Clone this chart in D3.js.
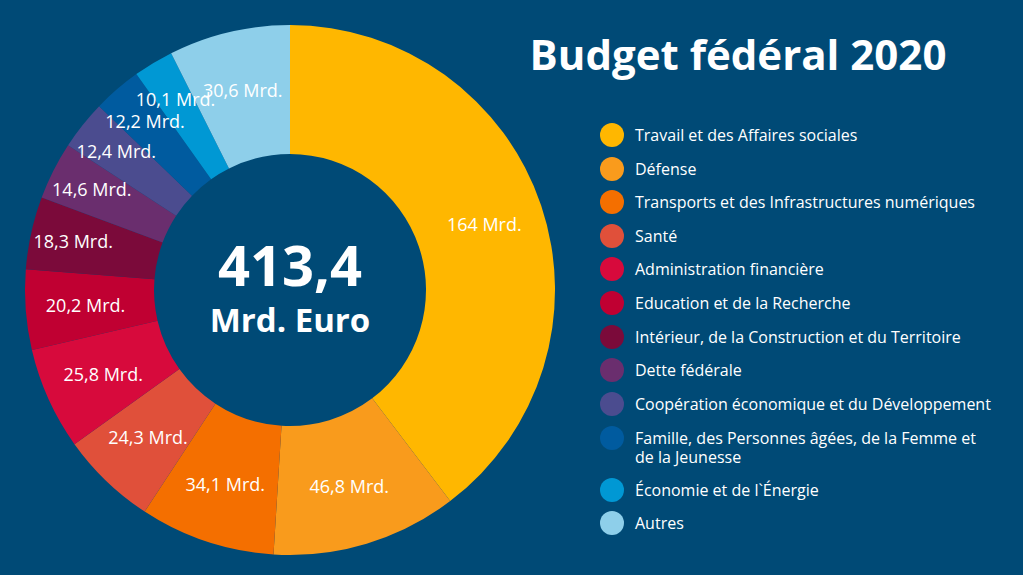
<!DOCTYPE html>
<html><head><meta charset="utf-8">
<script src="https://cdn.jsdelivr.net/npm/d3@7"></script>
<style>body{margin:0;background:#004a76}svg{display:block;font-family:"Open Sans",sans-serif}</style>
</head><body><svg id="c" width="1023" height="575"></svg>
<script>
// budget categories, clockwise from 12 o'clock
const categories = ["Travail et des Affaires sociales","Défense","Transports et des Infrastructures numériques","Santé","Administration financière","Education et de la Recherche","Intérieur, de la Construction et du Territoire","Dette fédérale","Coopération économique et du Développement","Famille, des Personnes âgées, de la Femme et de la Jeunesse","Économie et de l`Énergie","Autres"];
const values = [164, 46.8, 34.1, 24.3, 25.8, 20.2, 18.3, 14.6, 12.4, 12.2, 10.1, 30.6];
const labels = ["164 Mrd.","46,8 Mrd.","34,1 Mrd.","24,3 Mrd.","25,8 Mrd.","20,2 Mrd.","18,3 Mrd.","14,6 Mrd.","12,4 Mrd.","12,2 Mrd.","10,1 Mrd.","30,6 Mrd."];
const colors = ["#ffb700","#f99b1c","#f46f00","#e0503a","#d70a3c","#c00032","#7b0a3a","#6a2e6e","#4b4c8f","#005b9f","#0098d4","#8ecfea"];

const svg = d3.select("#c");
const cx = 290, cy = 290;
const pie = d3.pie().sort(null).value(d => d);
const arc = d3.arc().innerRadius(136).outerRadius(265);
const g = svg.append("g").attr("transform", `translate(${cx},${cy})`);
const arcs = pie(values);

g.selectAll("path").data(arcs).join("path")
  .attr("d", arc).attr("fill", (d, i) => colors[i]);

// small slices get their label pushed outward a bit
const labelR = d => d.value < 20 ? 222 : 205;
g.selectAll("text.lbl").data(arcs).join("text")
  .attr("class", "lbl")
  .attr("transform", d => {
    const r = labelR(d);
    return `translate(${d3.arc().innerRadius(r).outerRadius(r).centroid(d)})`;
  })
  .attr("text-anchor", "middle").attr("dy", "0.35em")
  .attr("fill", "#fff").attr("font-size", 18).attr("font-weight", 500)
  .text((d, i) => labels[i]);

// centre total
g.append("text").attr("text-anchor", "middle").attr("y", -4)
  .attr("fill", "#fff").attr("font-size", 56).attr("font-weight", 700).text("413,4");
g.append("text").attr("text-anchor", "middle").attr("y", 42)
  .attr("fill", "#fff").attr("font-size", 33).attr("font-weight", 700).text("Mrd. Euro");

svg.append("text").attr("x", 738).attr("y", 70).attr("text-anchor", "middle")
  .attr("fill", "#fff").attr("font-size", 42).attr("font-weight", 700).text("Budget fédéral 2020");

// legend
const rowY = [135,169,202,236,269,303,337,370,404,438,490,523];
const leg = svg.append("g").selectAll("g").data(categories).join("g")
  .attr("transform", (d, i) => `translate(612,${rowY[i]})`);
leg.append("circle").attr("r", 12).attr("fill", (d, i) => colors[i]);
leg.append("text").attr("x", 23)
  .attr("fill", "#fff").attr("font-size", 16)
  .each(function (d, i) {
    const t = d3.select(this);
    if (i === 9) {
      t.append("tspan").attr("x", 23).attr("y", 6).text("Famille, des Personnes âgées, de la Femme et");
      t.append("tspan").attr("x", 23).attr("y", 25).text("de la Jeunesse");
    } else t.attr("dy", "0.35em").text(d);
  });
</script></body></html>
